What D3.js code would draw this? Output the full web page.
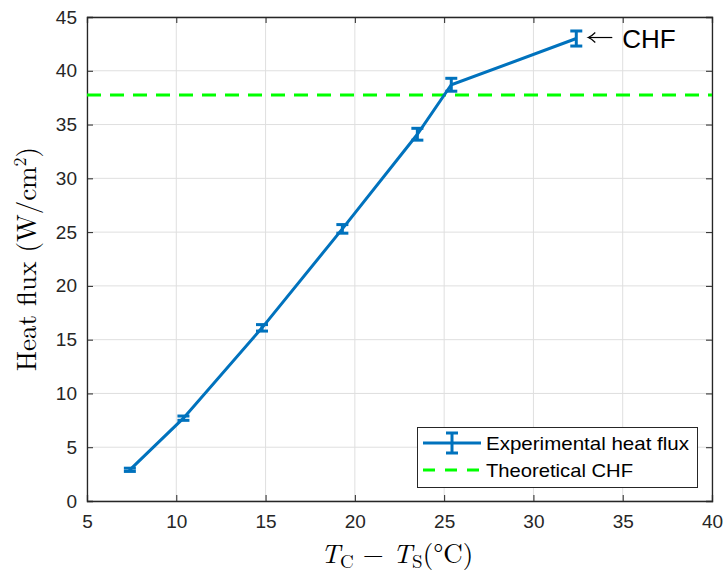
<!DOCTYPE html>
<html><head><meta charset="utf-8">
<script src="https://cdn.jsdelivr.net/npm/d3@7"></script>
<style>body{margin:0;background:#fff}svg{display:block}</style>
</head><body>
<svg id="c" width="725" height="575"></svg>
<script>
const xVals = [7.4, 10.4, 14.8, 19.3, 23.5, 25.4, 32.4];
const yVals = [2.9, 7.7, 16.1, 25.3, 34.1, 38.7, 43.0];
const errVals = [0.15, 0.2, 0.3, 0.4, 0.55, 0.6, 0.7];
const theoreticalCHF = 37.75;
const xTicks = [5, 10, 15, 20, 25, 30, 35, 40];
const yTicks = [0, 5, 10, 15, 20, 25, 30, 35, 40, 45];

const svg = d3.select('#c');
const L = 87, R = 712, T = 17, B = 501;
const x = d3.scaleLinear().domain([5, 40]).range([L, R]);
const y = d3.scaleLinear().domain([0, 45]).range([B, T]);
const axisColor = '#262626';
const sans = 'Liberation Sans, Arial, sans-serif';

// grid
const g = svg.append('g');
g.selectAll('.gx').data(xTicks).join('line')
  .attr('x1', d => x(d)).attr('x2', d => x(d)).attr('y1', T).attr('y2', B)
  .attr('stroke', '#dfdfdf').attr('stroke-width', 1);
g.selectAll('.gy').data(yTicks).join('line')
  .attr('y1', d => y(d)).attr('y2', d => y(d)).attr('x1', L).attr('x2', R)
  .attr('stroke', '#dfdfdf').attr('stroke-width', 1);

// axes
const tickLen = 6;
const ax = svg.append('g').attr('transform', `translate(0,${B})`)
  .call(d3.axisBottom(x).tickValues(xTicks).tickSize(-tickLen).tickPadding(14));
const ay = svg.append('g').attr('transform', `translate(${L},0)`)
  .call(d3.axisLeft(y).tickValues(yTicks).tickSize(-tickLen).tickPadding(10));
const axT = svg.append('g').attr('transform', `translate(0,${T})`)
  .call(d3.axisTop(x).tickValues(xTicks).tickSize(-tickLen).tickFormat(''));
const ayR = svg.append('g').attr('transform', `translate(${R},0)`)
  .call(d3.axisRight(y).tickValues(yTicks).tickSize(-tickLen).tickFormat(''));
[ax, ay, axT, ayR].forEach(a => {
  a.select('.domain').attr('stroke', axisColor).attr('stroke-width', 1.3);
  a.selectAll('.tick line').attr('stroke', axisColor).attr('stroke-width', 1);
  a.selectAll('.tick text').attr('fill', axisColor)
    .style('font-family', sans).style('font-size', '19px');
});

// theoretical CHF
svg.append('line')
  .attr('x1', x(5)).attr('x2', x(40)).attr('y1', y(theoreticalCHF)).attr('y2', y(theoreticalCHF))
  .attr('stroke', '#00ff00').attr('stroke-width', 3.2).attr('stroke-dasharray', '14,9');

// experimental line
const blue = '#0072BD';
const pts = xVals.map((d, i) => ({x: d, y: yVals[i], e: errVals[i]}));
svg.append('path').datum(pts)
  .attr('d', d3.line().x(d => x(d.x)).y(d => y(d.y)))
  .attr('fill', 'none').attr('stroke', blue).attr('stroke-width', 3);
const eb = svg.append('g').attr('stroke', blue).attr('stroke-width', 3);
pts.forEach(p => {
  const cx = x(p.x), y1 = y(p.y + p.e), y2 = y(p.y - p.e);
  eb.append('line').attr('x1', cx).attr('x2', cx).attr('y1', y1).attr('y2', y2);
  eb.append('line').attr('x1', cx - 6).attr('x2', cx + 6).attr('y1', y1).attr('y2', y1);
  eb.append('line').attr('x1', cx - 6).attr('x2', cx + 6).attr('y1', y2).attr('y2', y2);
});

// CHF annotation: thin arrow + text
const last = pts[pts.length - 1];
const ax0 = x(last.x) + 12, ay0 = y(last.y) - 1;
svg.append('line').attr('x1', ax0 + 1).attr('x2', ax0 + 24).attr('y1', ay0).attr('y2', ay0)
  .attr('stroke', '#000').attr('stroke-width', 1.2);
svg.append('path').attr('d', `M${ax0 + 7},${ay0 - 5} Q${ax0 + 3},${ay0 - 1} ${ax0},${ay0} Q${ax0 + 3},${ay0 + 1} ${ax0 + 7},${ay0 + 5}`)
  .attr('fill', 'none').attr('stroke', '#000').attr('stroke-width', 1.2);
svg.append('text').attr('x', ax0 + 34).attr('y', ay0 + 10).text('CHF')
  .style('font-family', sans).style('font-size', '26px').attr('fill', '#000');

// legend
const lg = svg.append('g');
lg.append('rect').attr('x', 417.5).attr('y', 427.5).attr('width', 280).attr('height', 60)
  .attr('fill', '#fff').attr('stroke', axisColor).attr('stroke-width', 1);
lg.append('line').attr('x1', 423).attr('x2', 481).attr('y1', 443).attr('y2', 443)
  .attr('stroke', blue).attr('stroke-width', 3);
lg.append('line').attr('x1', 452).attr('x2', 452).attr('y1', 433).attr('y2', 453)
  .attr('stroke', blue).attr('stroke-width', 3);
lg.append('line').attr('x1', 446).attr('x2', 458).attr('y1', 433).attr('y2', 433)
  .attr('stroke', blue).attr('stroke-width', 3);
lg.append('line').attr('x1', 446).attr('x2', 458).attr('y1', 453).attr('y2', 453)
  .attr('stroke', blue).attr('stroke-width', 3);
lg.append('line').attr('x1', 423).attr('x2', 481).attr('y1', 470).attr('y2', 470)
  .attr('stroke', '#00ff00').attr('stroke-width', 3.2).attr('stroke-dasharray', '12,10');
lg.append('text').attr('x', 486).attr('y', 450).text('Experimental heat flux')
  .attr('textLength', 203).attr('lengthAdjust', 'spacingAndGlyphs')
  .style('font-family', sans).style('font-size', '18.5px');
lg.append('text').attr('x', 486).attr('y', 477).text('Theoretical CHF')
  .attr('textLength', 147).attr('lengthAdjust', 'spacingAndGlyphs')
  .style('font-family', sans).style('font-size', '18.5px');

// axis labels
const serif = 'Latin Modern Roman, CMU Serif, Liberation Serif, Times New Roman, serif';
const xl = svg.append('text').attr('x', 397).attr('y', 563).attr('text-anchor', 'middle')
  .style('font-family', serif).style('font-size', '27px').attr('fill', '#000');
xl.append('tspan').text('T').style('font-style', 'italic');
xl.append('tspan').text('C').attr('dy', 5).style('font-size', '19px');
xl.append('tspan').text(' − ').attr('dy', -5);
xl.append('tspan').text('T').style('font-style', 'italic');
xl.append('tspan').text('S').attr('dy', 5).style('font-size', '19px');
xl.append('tspan').text('(°C)').attr('dy', -5);

const yl = svg.append('text').attr('transform', `translate(36,${(T + B) / 2}) rotate(-90)`)
  .attr('text-anchor', 'middle')
  .style('font-family', serif).style('font-size', '27px').attr('fill', '#000');
yl.append('tspan').text('Heat flux (W/cm');
yl.append('tspan').text('2').attr('dy', -10).style('font-size', '18px');
yl.append('tspan').text(')').attr('dy', 10);
</script>
</body></html>
